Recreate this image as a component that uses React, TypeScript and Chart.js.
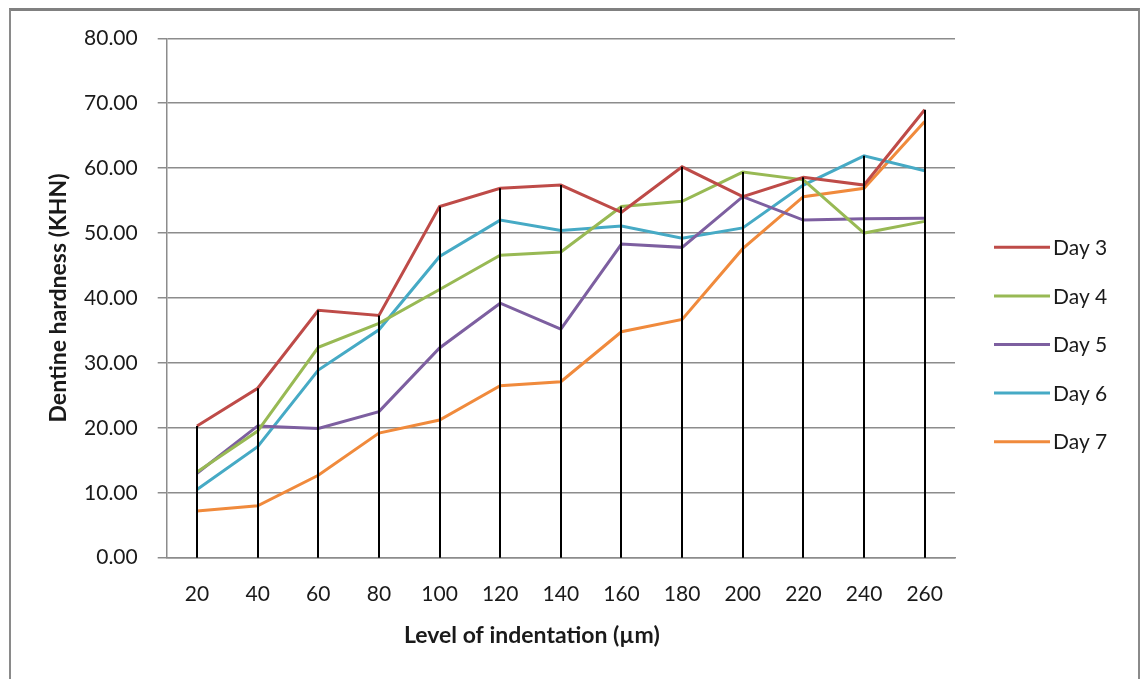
import React, { useEffect, useRef } from "react";
import { Chart, registerables } from "chart.js";

Chart.register(...registerables);

const categories = ["20", "40", "60", "80", "100", "120", "140", "160", "180", "200", "220", "240", "260"];
const seriesNames = ["Day 3", "Day 4", "Day 5", "Day 6", "Day 7"];
const day3 = [20.3, 26.1, 38.1, 37.3, 54.1, 56.9, 57.4, 53.2, 60.2, 55.6, 58.6, 57.4, 69.0];
const day4 = [13.2, 19.5, 32.4, 36.1, 41.3, 46.6, 47.1, 54.1, 54.9, 59.4, 58.2, 50.0, 51.8];
const day5 = [13.0, 20.3, 19.9, 22.5, 32.3, 39.2, 35.2, 48.3, 47.8, 55.6, 52.0, 52.2, 52.3];
const day6 = [10.5, 17.1, 28.9, 35.1, 46.4, 52.0, 50.4, 51.1, 49.2, 50.8, 57.4, 61.9, 59.6];
const day7 = [7.2, 8.0, 12.7, 19.2, 21.2, 26.5, 27.1, 34.8, 36.7, 47.6, 55.6, 56.9, 67.2];
const seriesColors = ["#BE4B48", "#98B954", "#7D5FA0", "#46AAC5", "#F08A3C"];
const yTickMin = 0;
const yTickMax = 80;
const yTickStep = 10;
const yTitle = "Dentine hardness (KHN)";
const xTitle = "Level of indentation (\u00b5m)";

const FONT = "Lato, 'Open Sans', 'DejaVu Sans', sans-serif";
const TEXT = "#1a1a1a";
const GRID = "#8c8c8c";

const dropLines = {
  id: "dropLines",
  afterDatasetsDraw(chart: any) {
    const { ctx, scales } = chart;
    const x = scales.x;
    const y = scales.y;
    const n = chart.data.labels.length;
    ctx.save();
    ctx.strokeStyle = "#000000";
    ctx.lineWidth = 2;
    for (let i = 0; i < n; i++) {
      let maxV = -Infinity;
      chart.data.datasets.forEach((d: any) => {
        if (d.data[i] > maxV) maxV = d.data[i];
      });
      const px = Math.round(x.getPixelForValue(i));
      ctx.beginPath();
      ctx.moveTo(px, y.getPixelForValue(maxV));
      ctx.lineTo(px, y.getPixelForValue(0));
      ctx.stroke();
    }
    ctx.restore();
  },
};

const sideLegend = {
  id: "sideLegend",
  afterDraw(chart: any) {
    const { ctx, chartArea } = chart;
    ctx.save();
    ctx.font = `21px ${FONT}`;
    ctx.textBaseline = "middle";
    ctx.textAlign = "left";
    chart.data.datasets.forEach((d: any, i: number) => {
      const yy = chartArea.top + 209 + i * 48.6;
      const x0 = chartArea.right + 39;
      ctx.strokeStyle = d.borderColor;
      ctx.lineWidth = 3;
      ctx.beginPath();
      ctx.moveTo(x0, yy);
      ctx.lineTo(x0 + 56, yy);
      ctx.stroke();
      ctx.fillStyle = TEXT;
      ctx.fillText(d.label, x0 + 59, yy + 1);
    });
    // x axis title, slightly left of the plot centre as in the reference
    ctx.font = `bold 23px ${FONT}`;
    ctx.textAlign = "center";
    ctx.fillStyle = TEXT;
    ctx.fillText(xTitle, (chartArea.left + chartArea.right) / 2 - 29, chartArea.bottom + 78);
    ctx.restore();
  },
};

export default function App() {
  const ref = useRef<HTMLCanvasElement | null>(null);
  useEffect(() => {
    if (!ref.current) return;
    const allSeries = [day3, day4, day5, day6, day7];
    const chart = new Chart(ref.current, {
      type: "line",
      data: {
        labels: categories,
        datasets: allSeries.map((s, i) => ({
          label: seriesNames[i],
          data: s,
          borderColor: seriesColors[i],
          backgroundColor: seriesColors[i],
          borderWidth: 3,
          pointRadius: 0,
          tension: 0,
          fill: false,
        })),
      },
      options: {
        responsive: false,
        animation: false,
        layout: { padding: { left: 44.7, top: 38.3, right: 186, bottom: 21.3 } },
        plugins: { legend: { display: false }, tooltip: { enabled: false } },
        scales: {
          x: {
            type: "category",
            offset: true,
            grid: { display: false, drawTicks: false },
            border: { display: true, color: GRID, width: 1.5 },
            ticks: { color: TEXT, font: { family: FONT, size: 21 }, padding: 24, maxRotation: 0, autoSkip: false },
            title: { display: false },
            afterFit(scale: any) { scale.height = 100; },
          },
          y: {
            min: yTickMin,
            max: yTickMax,
            grid: { color: GRID, lineWidth: 1.5, drawTicks: true, tickLength: 9, tickColor: GRID },
            border: { display: true, color: GRID, width: 1.5 },
            ticks: {
              stepSize: yTickStep,
              color: TEXT,
              font: { family: FONT, size: 21 },
              padding: 20,
              callback: (v: any) => Number(v).toFixed(2),
            },
            title: { display: true, text: yTitle, color: TEXT, font: { family: FONT, size: 23, weight: "bold" }, padding: { top: 0, bottom: 0 } },
            afterFit(scale: any) { scale.width = 122; },
          },
        },
      },
      plugins: [dropLines, sideLegend],
    } as any);
    return () => chart.destroy();
  }, []);
  return (
    <div style={{ position: "fixed", left: 0, top: 0, width: 1141, height: 679, overflow: "hidden", background: "#fff" }}>
      <div
        style={{
          position: "absolute",
          left: 9,
          top: 8,
          width: 1127,
          height: 700,
          borderLeft: "2px solid #8a8a8a",
          borderRight: "2px solid #8a8a8a",
          borderTop: "3px solid #808080",
        }}
      />
      <canvas ref={ref} width={1141} height={679} style={{ position: "absolute", left: 0, top: 0, width: 1141, height: 679 }} />
    </div>
  );
}
